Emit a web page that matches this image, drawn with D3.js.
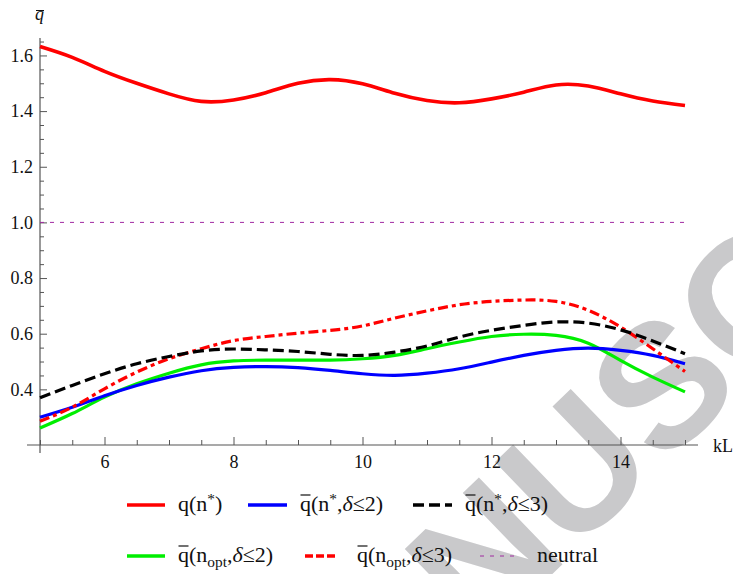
<!DOCTYPE html>
<html>
<head>
<meta charset="utf-8">
<script src="https://cdn.jsdelivr.net/npm/d3@7"></script>
<style>
  html, body { margin: 0; padding: 0; background: #fff; }
  svg { display: block; }
</style>
</head>
<body>
<svg id="chart" width="733" height="574"></svg>
<script>
// kL sample points
const kL = [5, 5.5, 6, 6.5, 7, 7.5, 8, 8.5, 9, 9.5, 10, 10.5, 11, 11.5, 12, 12.5, 13, 13.5, 14, 14.5, 15];

// q(n*)
const qStar = [1.632, 1.593, 1.543, 1.500, 1.462, 1.435, 1.440, 1.466, 1.500, 1.513, 1.498,
               1.464, 1.438, 1.430, 1.444, 1.468, 1.494, 1.490, 1.462, 1.436, 1.420];
// q̄(n*, δ≤2)
const qBarStar2 = [0.300, 0.336, 0.377, 0.414, 0.444, 0.467, 0.479, 0.482, 0.478, 0.468, 0.456,
                   0.450, 0.458, 0.474, 0.498, 0.522, 0.540, 0.548, 0.540, 0.522, 0.492];
// q̄(n*, δ≤3)
const qBarStar3 = [0.370, 0.414, 0.456, 0.492, 0.518, 0.538, 0.545, 0.542, 0.536, 0.526, 0.522,
                   0.534, 0.556, 0.588, 0.612, 0.630, 0.642, 0.638, 0.614, 0.574, 0.528];
// q̄(n_opt, δ≤2)
const qBarOpt2 = [0.261, 0.313, 0.372, 0.420, 0.458, 0.488, 0.502, 0.505, 0.505, 0.505, 0.510,
                  0.522, 0.546, 0.570, 0.590, 0.598, 0.594, 0.566, 0.504, 0.444, 0.391];
// q̄(n_opt, δ≤3)
const qBarOpt3 = [0.285, 0.336, 0.402, 0.462, 0.510, 0.546, 0.575, 0.590, 0.602, 0.612, 0.628,
                  0.656, 0.682, 0.704, 0.716, 0.721, 0.716, 0.684, 0.624, 0.546, 0.464];
// neutral reference level
const neutralLevel = 1.0;

// axis ticks
const xMajorTicks = [6, 8, 10, 12, 14];
const xMinorTicks = [5, 5.5, 6.5, 7, 7.5, 8.5, 9, 9.5, 10.5, 11, 11.5, 12.5, 13, 13.5, 14.5, 15];
const yMajorTicks = [0.4, 0.6, 0.8, 1.0, 1.2, 1.4, 1.6];
const yMinorTicks = [0.45, 0.5, 0.55, 0.65, 0.7, 0.75, 0.85, 0.9, 0.95, 1.05, 1.1, 1.15,
                     1.25, 1.3, 1.35, 1.45, 1.5, 1.55, 1.65];

const SERIF = '"Liberation Serif", "Times New Roman", Times, serif';
const SANS = '"Liberation Sans", Arial, Helvetica, sans-serif';

const svg = d3.select("#chart");

const x = d3.scaleLinear().domain([5, 15]).range([40, 685]);
const y = d3.scaleLinear().domain([0.2, 1.0]).range([445, 222.4]);

// background watermark
const wm = svg.append("text")
  .style("font-family", SANS)
  .style("font-weight", "bold")
  .style("font-size", "175px")
  .style("fill", "#c9c9cb")
  .text("ACCEPTED MANUSCRIPT");
const prefixW = wm.node().getSubStringLength(0, 12);
wm.attr("transform", `translate(571,556) rotate(-44) translate(${-prefixW},0)`);

// axes
const axisColor = "#555";
const styleTickText = g => g.selectAll("text")
  .style("font-family", SERIF).style("font-size", "18px").style("fill", "#111");

const gx = svg.append("g").attr("transform", "translate(0,445)");
gx.append("g").call(d3.axisBottom(x).tickValues(xMajorTicks).tickSize(-8).tickPadding(10)
    .tickFormat(d3.format("d")))
  .call(g => g.select(".domain").remove())
  .call(g => g.selectAll("line").attr("stroke", axisColor))
  .call(styleTickText);
gx.append("g").call(d3.axisBottom(x).tickValues(xMinorTicks).tickSize(-5).tickFormat(""))
  .call(g => g.select(".domain").remove())
  .call(g => g.selectAll("line").attr("stroke", axisColor));
gx.append("line").attr("x1", 27).attr("x2", 698).attr("stroke", axisColor).attr("stroke-width", 1.2);

const gy = svg.append("g").attr("transform", "translate(40,0)");
gy.append("g").call(d3.axisLeft(y).tickValues(yMajorTicks).tickSize(-7).tickPadding(7)
    .tickFormat(d3.format(".1f")))
  .call(g => g.select(".domain").remove())
  .call(g => g.selectAll("line").attr("stroke", axisColor))
  .call(styleTickText);
gy.append("g").call(d3.axisLeft(y).tickValues(yMinorTicks).tickSize(-4).tickFormat(""))
  .call(g => g.select(".domain").remove())
  .call(g => g.selectAll("line").attr("stroke", axisColor));
gy.append("line").attr("y1", 38).attr("y2", 453).attr("stroke", axisColor).attr("stroke-width", 1.2);

// axis labels
svg.append("text").attr("x", 713).attr("y", 452)
  .style("font-family", SERIF).style("font-size", "18px").style("fill", "#111").text("kL");
svg.append("text").attr("x", 35).attr("y", 20)
  .style("font-family", SERIF).style("font-size", "18px").style("font-style", "italic")
  .style("fill", "#111").text("q");
svg.append("line").attr("x1", 36).attr("x2", 44).attr("y1", 10.5).attr("y2", 10.5)
  .attr("stroke", "#111").attr("stroke-width", 1);

// series definitions
const series = [
  { values: qStar,     color: "#ff0000", width: 3.6, dash: null },
  { values: qBarStar2, color: "#0000ff", width: 3.2, dash: null },
  { values: qBarStar3, color: "#000000", width: 3.2, dash: "11,5" },
  { values: qBarOpt2,  color: "#00ee00", width: 3.2, dash: null },
  { values: qBarOpt3,  color: "#ff0000", width: 3.2, dash: "10,4,4,4" }
];

// neutral line
svg.append("line")
  .attr("x1", x(5)).attr("x2", x(15)).attr("y1", y(neutralLevel)).attr("y2", y(neutralLevel))
  .attr("stroke", "#a02aa0").attr("stroke-width", 1).attr("stroke-dasharray", "4,6");

const line = d3.line().x((d, i) => x(kL[i])).y(d => y(d)).curve(d3.curveNatural);

// draw order: lower curves under the dashed ones
const drawOrder = [0, 3, 1, 4, 2];
drawOrder.forEach(k => {
  const s = series[k];
  svg.append("path").datum(s.values)
    .attr("d", line)
    .attr("fill", "none")
    .attr("stroke", s.color)
    .attr("stroke-width", s.width)
    .attr("stroke-dasharray", s.dash)
    .attr("stroke-linecap", "butt");
});

// legend
const legendFont = 22;
const legendItems = [
  { s: 0, x1: 127, x2: 165, tx: 178, row: 0, bar: false, parts: [["q(n"], ["*", "sup"], [")"]] },
  { s: 1, x1: 248, x2: 287, tx: 300, row: 0, bar: true,
    parts: [["q(n"], ["*", "sup"], [","], ["δ", "it"], ["≤2)"]] },
  { s: 2, x1: 413, x2: 452, tx: 465, row: 0, bar: true,
    parts: [["q(n"], ["*", "sup"], [","], ["δ", "it"], ["≤3)"]] },
  { s: 3, x1: 127, x2: 165, tx: 178, row: 1, bar: true,
    parts: [["q(n"], ["opt", "sub"], [","], ["δ", "it"], ["≤2)"]] },
  { s: 4, x1: 305, x2: 337, tx: 357, row: 1, bar: true,
    parts: [["q(n"], ["opt", "sub"], [","], ["δ", "it"], ["≤3)"]] },
  { s: -1, x1: 480, x2: 518, tx: 537, row: 1, bar: false, parts: [["neutral"]] }
];
const rowLineY = [505, 556];
const rowTextY = [511, 562];

legendItems.forEach(it => {
  const ly = rowLineY[it.row];
  if (it.s >= 0) {
    const s = series[it.s];
    svg.append("line").attr("x1", it.x1).attr("x2", it.x2).attr("y1", ly).attr("y2", ly)
      .attr("stroke", s.color).attr("stroke-width", 3.6)
      .attr("stroke-dasharray", it.s === 4 ? "8,3" : s.dash);
  } else {
    svg.append("line").attr("x1", it.x1).attr("x2", it.x2).attr("y1", ly).attr("y2", ly)
      .attr("stroke", "#a02aa0").attr("stroke-width", 1).attr("stroke-dasharray", "4,6");
  }
  const t = svg.append("text").attr("x", it.tx).attr("y", rowTextY[it.row])
    .style("font-family", SERIF).style("font-size", legendFont + "px").style("fill", "#111");
  let shift = 0;
  it.parts.forEach(([str, kind]) => {
    const sp = t.append("tspan").text(str);
    if (kind === "sup") {
      sp.style("font-size", (legendFont * 0.7) + "px").attr("dy", -7 - shift);
      shift = -7;
    } else if (kind === "sub") {
      sp.style("font-size", (legendFont * 0.7) + "px").attr("dy", 5 - shift);
      shift = 5;
    } else {
      if (shift !== 0) { sp.attr("dy", -shift); shift = 0; }
      if (kind === "it") sp.style("font-style", "italic");
    }
  });
  if (it.bar) {
    const e = t.node().getExtentOfChar(0);
    svg.append("line")
      .attr("x1", e.x + 0.5).attr("x2", e.x + e.width - 0.5)
      .attr("y1", rowTextY[it.row] - 16).attr("y2", rowTextY[it.row] - 16)
      .attr("stroke", "#111").attr("stroke-width", 1.2);
  }
});
</script>
</body>
</html>
